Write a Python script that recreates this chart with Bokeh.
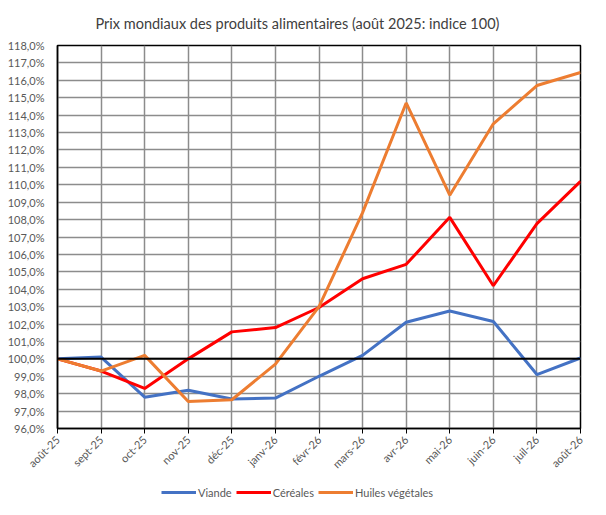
from math import pi

from bokeh.embed import file_html
from bokeh.layouts import column
from bokeh.models import FixedTicker, Legend, LegendItem, Span, Title
from bokeh.plotting import figure
from bokeh.resources import INLINE

# Indices mensuels (août 2025 = 100)
months = ["août-25", "sept-25", "oct-25", "nov-25", "déc-25", "janv-26", "févr-26",
          "mars-26", "avr-26", "mai-26", "juin-26", "juil-26", "août-26"]
viande = [100.0, 100.1, 97.8, 98.2, 97.7, 97.75, 99.0, 100.2, 102.1, 102.75, 102.15, 99.1, 100.05]
cereales = [100.0, 99.3, 98.3, 100.0, 101.55, 101.8, 102.95, 104.6, 105.43, 108.13, 104.2, 107.77, 110.2]
huiles = [100.0, 99.3, 100.2, 97.55, 97.65, 99.7, 103.0, 108.4, 114.7, 109.4, 113.5, 115.7, 116.45]
series = ["Viande", "Céréales", "Huiles végétales"]
colors = ["#4472C4", "#FF0000", "#ED7D31"]
y_ticks = list(range(96, 119))

FONT = "Lato"
GREY = "#595959"

x = list(range(len(months)))

p = figure(width=590, height=478, output_backend="svg", toolbar_location=None,
           x_range=(0, len(months) - 1), y_range=(96, 118),
           min_border_left=57, min_border_right=10, min_border_top=45, min_border_bottom=49)

p.add_layout(Title(text="Prix mondiaux des produits alimentaires (août 2025: indice 100)",
                   text_font=FONT, text_font_size="14.5px", text_font_style="normal",
                   text_color="#404040", align="left", vertical_align="top",
                   offset=38, standoff=24), "above")

p.outline_line_color = "black"
p.outline_line_width = 1.5

# axes
p.xaxis.ticker = FixedTicker(ticks=x)
p.xaxis.major_label_overrides = {i: m for i, m in enumerate(months)}
p.xaxis.major_label_orientation = pi / 4
p.yaxis.ticker = FixedTicker(ticks=y_ticks)
p.yaxis.major_label_overrides = {v: f"{v:.1f}".replace(".", ",") + "%" for v in y_ticks}

for ax in (p.xaxis, p.yaxis):
    ax.axis_line_color = "black"
    ax.axis_line_width = 1.5
    ax.major_tick_line_color = "black"
    ax.minor_tick_line_color = None
    ax.major_label_text_font = FONT
    ax.major_label_text_font_size = "11px"
    ax.major_label_text_color = GREY
p.xaxis.major_tick_out = 5
p.xaxis.major_tick_in = 0
p.yaxis.major_tick_out = 0
p.yaxis.major_tick_in = 0
p.xaxis.major_label_standoff = 4
p.yaxis.major_label_standoff = 13

p.xgrid.ticker = FixedTicker(ticks=x)
p.ygrid.ticker = FixedTicker(ticks=y_ticks)
for g in (p.xgrid, p.ygrid):
    g.grid_line_color = "#8c8c8c"
    g.grid_line_width = 1.5

p.add_layout(Span(location=100, dimension="width", line_color="black", line_width=2))

for ys, c in zip([viande, cereales, huiles], colors):
    p.line(x, ys, line_color=c, line_width=3)

# legend in a strip below the chart (its frame is aligned with the chart's frame)
leg = figure(width=590, height=21, output_backend="svg", toolbar_location=None,
             min_border=0, x_range=(0, 1), y_range=(0, 1))
leg.axis.visible = False
leg.grid.visible = False
leg.outline_line_color = None
items = []
for name, c in zip(series, colors):
    # points lie outside the visible range: only the legend sample shows
    r = leg.line([-5, -4], [-5, -5], line_color=c, line_width=3)
    items.append(LegendItem(label=name, renderers=[r]))
leg.add_layout(Legend(items=items, orientation="horizontal", location=(104, 0),
                      label_text_font=FONT, label_text_font_size="11px",
                      label_text_color=GREY, glyph_width=35, glyph_height=14,
                      label_standoff=2, spacing=4, border_line_color=None,
                      background_fill_alpha=0, padding=2, margin=0))

layout = column(p, leg, spacing=0)

open("out.html", "w").write(file_html(layout, INLINE))
